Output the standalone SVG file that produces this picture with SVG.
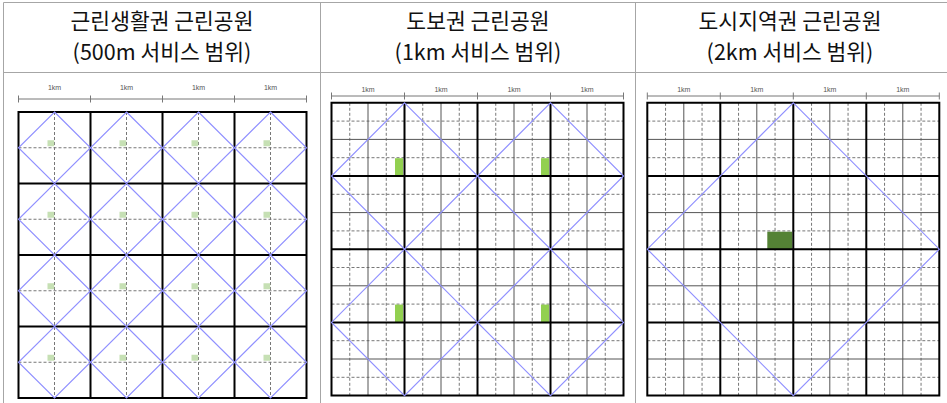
<svg xmlns="http://www.w3.org/2000/svg" xmlns:xlink="http://www.w3.org/1999/xlink" width="947" height="403" viewBox="0 0 947 403">
<style>
.frame{stroke:#a6a6a6;stroke-width:1;fill:none}
.title{font-family:"Noto Sans CJK KR","Noto Sans",sans-serif;font-size:21.5px;fill:#111;text-anchor:middle}
.km{font-family:"Liberation Sans",Arial,sans-serif;font-size:7px;fill:#555;text-anchor:middle}
.scale{stroke:#777;stroke-width:1;fill:none}
.thick{stroke:#000;stroke-width:2;fill:none}
.sub{stroke:#555;stroke-width:1;fill:none}
.dash{stroke:#777;stroke-width:1;stroke-dasharray:3 2;fill:none}
.dia{stroke:#9090ff;stroke-width:1.15;fill:none}
</style>
<defs>
<rect id="sq1" width="6.7" height="6" fill="#c6e0b4"/>
<g id="subgrid">
<path class="dash" d="M18.25 0V292.8M54.75 0V292.8M91.25 0V292.8M127.75 0V292.8M164.25 0V292.8M200.75 0V292.8M237.25 0V292.8M273.75 0V292.8M0 18.3H292M0 54.9H292M0 91.5H292M0 128.1H292M0 164.7H292M0 201.3H292M0 237.9H292M0 274.5H292"/>
<path class="sub" d="M36.5 0V292.8M109.5 0V292.8M182.5 0V292.8M255.5 0V292.8M0 36.6H292M0 109.8H292M0 183H292M0 256.2H292"/>
</g>
<path id="major" class="thick" d="M73 0V292.8M146 0V292.8M219 0V292.8M0 73.2H292M0 146.4H292M0 219.6H292M0 0H292V292.8H0Z"/>
</defs>
<rect width="947" height="403" fill="#fff"/>

<g id="table">
<path class="frame" d="M3.5 2.5H947M3.5 72.5H947M3.5 2.5V403M320.5 2.5V403M635.5 2.5V403"/>
</g>

<g id="header1">
<text class="title" x="162" y="28.5">근린생활권 근린공원</text>
<text class="title" x="162" y="59.5">(500m 서비스 범위)</text>
</g>
<g id="header2">
<text class="title" x="478" y="28.5">도보권 근린공원</text>
<text class="title" x="478" y="59.5">(1km 서비스 범위)</text>
</g>
<g id="header3">
<text class="title" x="790" y="28.5">도시지역권 근린공원</text>
<text class="title" x="790" y="59.5">(2km 서비스 범위)</text>
</g>

<g id="panel1">
<g id="scale1">
<path class="scale" d="M18.5 99H306.5M18.5 95.5V102.5M90.5 95.5V102.5M162.5 95.5V102.5M234.5 95.5V102.5M306.5 95.5V102.5"/>
<text class="km" x="54.5" y="90">1km</text>
<text class="km" x="126.5" y="90">1km</text>
<text class="km" x="198.5" y="90">1km</text>
<text class="km" x="270.5" y="90">1km</text>
</g>
<path class="dash" d="M54.5 112V398M126.5 112V398M198.5 112V398M270.5 112V398M18.5 147.75H306.5M18.5 219.25H306.5M18.5 290.75H306.5M18.5 362.25H306.5"/>
<g id="parks1">
<use xlink:href="#sq1" x="47.5" y="140.25"/><use xlink:href="#sq1" x="119.5" y="140.25"/><use xlink:href="#sq1" x="191.5" y="140.25"/><use xlink:href="#sq1" x="263.5" y="140.25"/>
<use xlink:href="#sq1" x="47.5" y="211.75"/><use xlink:href="#sq1" x="119.5" y="211.75"/><use xlink:href="#sq1" x="191.5" y="211.75"/><use xlink:href="#sq1" x="263.5" y="211.75"/>
<use xlink:href="#sq1" x="47.5" y="283.25"/><use xlink:href="#sq1" x="119.5" y="283.25"/><use xlink:href="#sq1" x="191.5" y="283.25"/><use xlink:href="#sq1" x="263.5" y="283.25"/>
<use xlink:href="#sq1" x="47.5" y="354.75"/><use xlink:href="#sq1" x="119.5" y="354.75"/><use xlink:href="#sq1" x="191.5" y="354.75"/><use xlink:href="#sq1" x="263.5" y="354.75"/>
</g>
<path class="thick" d="M90.5 112V398M162.5 112V398M234.5 112V398M18.5 183.5H306.5M18.5 255H306.5M18.5 326.5H306.5M18.5 112H306.5V398H18.5Z"/>
<path class="dia" d="M54.5 112L90.5 147.75L54.5 183.5L18.5 147.75ZM126.5 112L162.5 147.75L126.5 183.5L90.5 147.75ZM198.5 112L234.5 147.75L198.5 183.5L162.5 147.75ZM270.5 112L306.5 147.75L270.5 183.5L234.5 147.75ZM54.5 183.5L90.5 219.25L54.5 255L18.5 219.25ZM126.5 183.5L162.5 219.25L126.5 255L90.5 219.25ZM198.5 183.5L234.5 219.25L198.5 255L162.5 219.25ZM270.5 183.5L306.5 219.25L270.5 255L234.5 219.25ZM54.5 255L90.5 290.75L54.5 326.5L18.5 290.75ZM126.5 255L162.5 290.75L126.5 326.5L90.5 290.75ZM198.5 255L234.5 290.75L198.5 326.5L162.5 290.75ZM270.5 255L306.5 290.75L270.5 326.5L234.5 290.75ZM54.5 326.5L90.5 362.25L54.5 398L18.5 362.25ZM126.5 326.5L162.5 362.25L126.5 398L90.5 362.25ZM198.5 326.5L234.5 362.25L198.5 398L162.5 362.25ZM270.5 326.5L306.5 362.25L270.5 398L234.5 362.25Z"/>
</g>

<g id="panel2">
<g id="scale2">
<path class="scale" d="M331.5 96H623.5M331.5 92.5V99.5M404.5 92.5V99.5M477.5 92.5V99.5M550.5 92.5V99.5M623.5 92.5V99.5"/>
<text class="km" x="368" y="91.5">1km</text>
<text class="km" x="441" y="91.5">1km</text>
<text class="km" x="514" y="91.5">1km</text>
<text class="km" x="587" y="91.5">1km</text>
</g>
<use xlink:href="#subgrid" x="331.5" y="102.8"/>
<g id="parks2" fill="#92d050">
<rect x="395" y="158.2" width="8" height="17.6"/>
<rect x="541" y="158.2" width="8" height="17.6"/>
<rect x="395" y="304.6" width="8" height="17.6"/>
<rect x="541" y="304.6" width="8" height="17.6"/>
</g>
<use xlink:href="#major" x="331.5" y="102.8"/>
<path class="dia" d="M404.5 102.8L477.5 176L404.5 249.2L331.5 176ZM550.5 102.8L623.5 176L550.5 249.2L477.5 176ZM404.5 249.2L477.5 322.4L404.5 395.6L331.5 322.4ZM550.5 249.2L623.5 322.4L550.5 395.6L477.5 322.4Z"/>
</g>

<g id="panel3">
<g id="scale3">
<path class="scale" d="M647.3 96H939.3M647.3 92.5V99.5M720.3 92.5V99.5M793.3 92.5V99.5M866.3 92.5V99.5M939.3 92.5V99.5"/>
<text class="km" x="683.8" y="91.5">1km</text>
<text class="km" x="756.8" y="91.5">1km</text>
<text class="km" x="829.8" y="91.5">1km</text>
<text class="km" x="902.8" y="91.5">1km</text>
</g>
<use xlink:href="#subgrid" x="647.3" y="102.8"/>
<rect id="park3" x="767.3" y="231.7" width="25" height="17.5" fill="#548235"/>
<use xlink:href="#major" x="647.3" y="102.8"/>
<path class="dia" d="M793.3 102.8L939.3 249.2L793.3 395.6L647.3 249.2Z"/>
</g>
</svg>
